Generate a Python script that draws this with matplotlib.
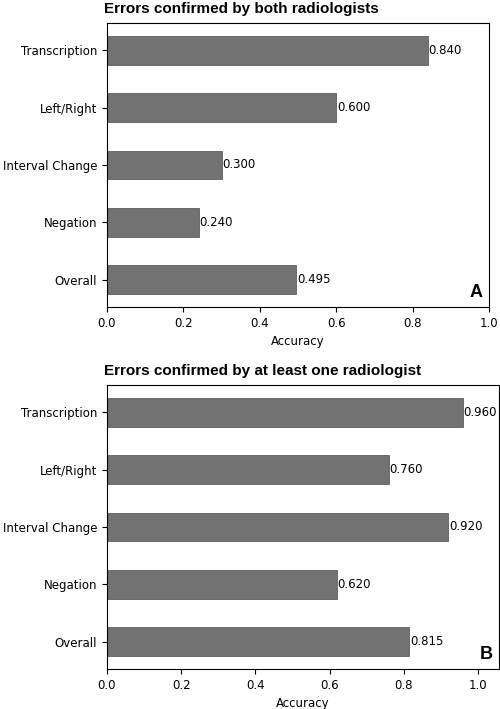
import matplotlib
matplotlib.use("Agg")
import matplotlib.pyplot as plt

plt.rcParams['font.family'] = ['DejaVu Sans']

categories = ['Overall', 'Negation', 'Interval Change', 'Left/Right', 'Transcription']
both_acc = [0.495, 0.240, 0.300, 0.600, 0.840]
one_acc = [0.815, 0.620, 0.920, 0.760, 0.960]
titles = ['Errors confirmed by both radiologists',
          'Errors confirmed by at least one radiologist']
letters = ['A', 'B']
xmax = [1.0, 1.057]

fig = plt.figure(figsize=(5.0, 7.09), dpi=100)
ax1 = fig.add_axes([0.214, 0.567, 0.764, 0.4006])
ax2 = fig.add_axes([0.214, 0.0564, 0.784, 0.4006])

for ax, vals, title, letter, xm in zip([ax1, ax2], [both_acc, one_acc], titles, letters, xmax):
    bars = ax.barh(categories, vals, height=0.5, color='#727272',
                   edgecolor='#5e5e5e', linewidth=0.6)
    ax.bar_label(bars, fmt='%.3f', padding=0.5, fontsize=8.5)
    ax.set_xlim(0, xm)
    ax.set_xticks([0.0, 0.2, 0.4, 0.6, 0.8, 1.0])
    ax.tick_params(labelsize=8.5)
    ax.set_xlabel('Accuracy', fontsize=8.5)
    ax.set_title(title, loc='left', fontsize=11, fontweight='bold',
                 family='Liberation Sans', x=-0.008, pad=7)
    ax.annotate(letter, xy=(1, 0), xycoords='axes fraction',
                xytext=(-6, 6), textcoords='offset pixels',
                ha='right', va='bottom', fontsize=13, fontweight='bold',
                family='Liberation Sans')

fig.savefig('out.png', dpi=100)
